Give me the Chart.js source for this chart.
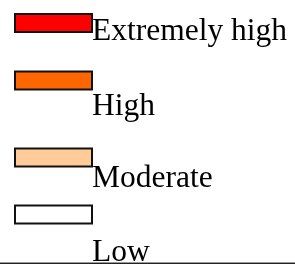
<!DOCTYPE html>
<html>
<head>
<meta charset="utf-8">
<script src="https://cdn.jsdelivr.net/npm/chart.js@4/dist/chart.umd.min.js"></script>
<style>
  html, body { margin:0; padding:0; background:#fff; }
</style>
</head>
<body>
<canvas id="riskLegend" width="295" height="264"></canvas>
<script>
// risk levels - legend only
const levels = ['Extremely high', 'High', 'Moderate', 'Low'];
const levelColors = ['#FF0000', '#FF6600', '#FFCC99', '#FFFFFF'];
const levelValues = [[], [], [], []];

// where each box / label sits (the reference spacing is uneven)
const boxTops = [13, 70.5, 147.5, 204.5];
const textBaselines = [40, 115, 187, 261];

const sideLegend = {
    id: 'sideLegend',
    afterDraw(chart) {
        const ctx = chart.ctx;
        ctx.save();
        chart.data.datasets.forEach((ds, i) => {
            ctx.fillStyle = ds.backgroundColor;
            ctx.fillRect(15, boxTops[i] + 1, 77, 18);
            ctx.lineWidth = 2;
            ctx.strokeStyle = '#111';
            ctx.strokeRect(15, boxTops[i] + 1, 77, 18);

            ctx.fillStyle = '#000';
            ctx.font = '31.5px "Liberation Serif", "Times New Roman", serif';
            ctx.textBaseline = 'alphabetic';
            ctx.textAlign = 'left';
            ctx.fillText(ds.label, 92, textBaselines[i]);
        });
        // bottom rule
        ctx.fillStyle = '#999';
        ctx.fillRect(0, 262, 295, 1);
        ctx.fillStyle = '#222';
        ctx.fillRect(0, 263, 295, 1);
        ctx.restore();
    }
};

let riskLegend = new Chart('riskLegend', {
    type: 'bar',
    data: {
        labels: [''],
        datasets: levels.map((l, i) => ({
            label: l,
            data: levelValues[i],
            backgroundColor: levelColors[i]
        }))
    },
    plugins: [sideLegend],
    options: {
        responsive: false,
        animation: false,
        scales: {
            x: { display: false },
            y: { display: false }
        },
        plugins: {
            legend: { display: false },
            tooltip: { enabled: false }
        }
    }
});
</script>
</body>
</html>
